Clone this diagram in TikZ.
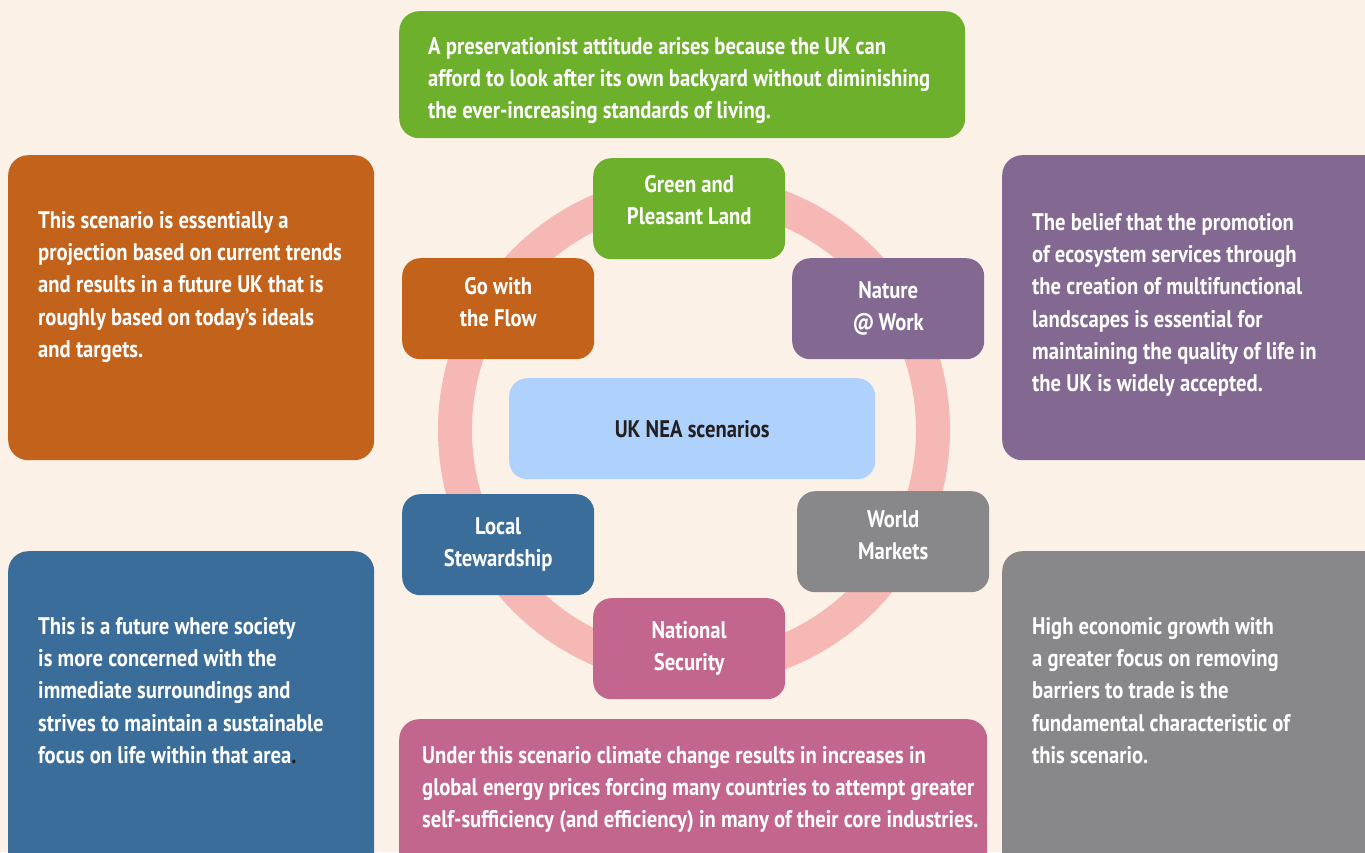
\documentclass[tikz,border=0pt]{standalone}
\usepackage{fontspec}
\setmainfont{PT Sans}[FakeStretch=0.86,BoldFeatures={FakeStretch=0.86}]
\usepackage{tikz}
\usetikzlibrary{positioning}
\definecolor{bgcream}{HTML}{FCF1E7}
\definecolor{ringpink}{HTML}{F5B8B4}
\definecolor{greenbox}{HTML}{6DB02B}
\definecolor{orangebox}{HTML}{C3621B}
\definecolor{purplebox}{HTML}{836891}
\definecolor{skybox}{HTML}{AFD2FD}
\definecolor{bluebox}{HTML}{3A6D9A}
\definecolor{greybox}{HTML}{88888A}
\definecolor{pinkbox}{HTML}{C3668D}
\definecolor{darktext}{HTML}{231F20}
\begin{document}
\begin{tikzpicture}[x=1pt,y=-1pt,font=\bfseries\fontsize{24}{32.3}\selectfont,every node/.style={inner sep=0pt},box/.style={rounded corners=20pt,anchor=north west},blob/.style={rounded corners=18pt,anchor=north west,text=white,align=center,minimum width=192pt,minimum height=101pt},blurb/.style={text=white,align=left,anchor=north west}]
	\useasboundingbox (0,0) rectangle (1365,852);
	\fill[bgcream] (0,0) rectangle (1365,852);
	\clip (0,0) rectangle (1365,852);

	% ring behind the scenario boxes
	\draw[ringpink,line width=34pt] (694,430) circle [radius=239];

	% outer descriptions
	\node[box,fill=greenbox,minimum width=566pt,minimum height=127pt] (greenbig) at (399,11) {};
	\node[box,fill=orangebox,minimum width=366pt,minimum height=305pt] (flowbig) at (8,155) {};
	\node[box,fill=purplebox,minimum width=385pt,minimum height=305pt] (naturebig) at (1002,155) {};
	\node[box,fill=bluebox,minimum width=366pt,minimum height=330pt] (localbig) at (8,551) {};
	\node[box,fill=greybox,minimum width=385pt,minimum height=330pt] (worldbig) at (1002,551) {};
	\node[box,fill=pinkbox,minimum width=588pt,minimum height=160pt] (nationbig) at (399,719) {};

	\node[blurb] (greentext) at (428,37) {A preservationist attitude arises because the UK can\\afford to look after its own backyard without diminishing\\the ever-increasing standards of living.};
	\node[blurb] (flowtext) at (38,211) {This scenario is essentially a\\projection based on current trends\\and results in a future UK that is\\roughly based on today’s ideals\\and targets.};
	\node[blurb] (naturetext) at (1032,213) {The belief that the promotion\\of ecosystem services through\\the creation of multifunctional\\landscapes is essential for\\maintaining the quality of life in\\the UK is widely accepted.};
	\node[blurb] (localtext) at (38,617) {This is a future where society\\is more concerned with the\\immediate surroundings and\\strives to maintain a sustainable\\focus on life within that area{\color{darktext}.}};
	\node[blurb] (worldtext) at (1032,617) {High economic growth with\\a greater focus on removing\\barriers to trade is the\\fundamental characteristic of\\this scenario.};
	\node[blurb] (nationtext) at (422,746) {Under this scenario climate change results in increases in\\global energy prices forcing many countries to attempt greater\\self-sufficiency (and efficiency) in many of their core industries.};

	% scenarios round the ring
	\node[blob,fill=greenbox,text depth=17pt] (green) at (593,158) {Green and\\Pleasant Land};
	\node[blob,fill=orangebox,text depth=13pt] (flow) at (402,258) {Go with\\the Flow};
	\node[blob,fill=purplebox] (nature) at (792,258) {Nature\\@\,Work};
	\node[blob,fill=bluebox] (local) at (402,494) {Local\\Stewardship};
	\node[blob,fill=greybox,text depth=13pt] (world) at (797,491) {World\\Markets};
	\node[blob,fill=pinkbox] (nation) at (593,598) {National\\Security};

	\node[box,fill=skybox,text=darktext,rounded corners=18pt,minimum width=366pt,minimum height=101pt] (nea) at (509,378) {UK NEA scenarios};
\end{tikzpicture}
\end{document}
